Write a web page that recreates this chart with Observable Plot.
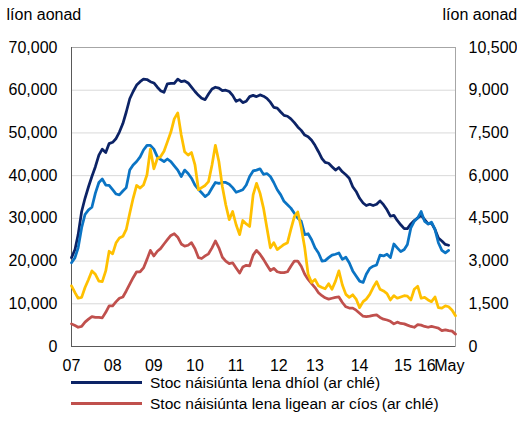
<!DOCTYPE html>
<html><head><meta charset="utf-8">
<script src="https://cdn.jsdelivr.net/npm/d3@7"></script>
<script src="https://cdn.jsdelivr.net/npm/@observablehq/plot@0.6"></script>
<style>
body{margin:0;background:#fff;font-family:"Liberation Sans",Arial,sans-serif;}
#legend{height:42px;margin-top:-8px;position:relative;}
.row{display:flex;align-items:center;height:21px;margin-left:71px;font-size:15.5px;color:#000;white-space:nowrap;}
.sw{width:71px;height:3px;margin-right:8px;flex:none;}
</style></head><body><div id="chart"></div><div id="legend"></div>
<script>
// monthly data, first month January 2007
const startYear = 2007;
const endMonth = "2016-05-01";

// left axis (líon aonad)
const stocDiol = [20.8,22.7,26.2,31.6,34.7,37.4,39.8,42.1,44.8,46.2,45.4,47.5,47.8,48.7,50.2,52.2,54.9,58.0,59.7,61.2,62.0,62.6,62.5,62.0,61.7,60.7,59.9,59.5,61.5,61.6,61.6,62.6,62.0,62.2,61.7,60.7,59.7,58.8,
58.1,57.8,59.1,60.3,60.7,60.5,59.9,60.0,59.7,58.8,57.4,57.8,57.1,57.4,58.5,58.8,58.5,58.9,58.6,58.1,57.2,56.0,55.8,54.9,54.1,53.9,53.3,52.4,51.4,50.6,49.5,49.1,48.3,47.1,45.6,44.0,43.1,
42.9,42.1,41.3,41.9,40.9,40.2,39.4,37.4,36.3,34.7,33.6,33.0,33.3,33.0,33.3,34.1,33.2,32.0,30.5,30.7,29.5,28.5,27.6,27.6,28.7,29.5,30.1,30.7,29.7,28.7,28.9,27.4,25.4,24.7,23.9,23.7].map(v => v * 1000);
const stocCios = [5.3,4.9,4.5,4.7,5.7,6.4,7.0,6.8,6.8,6.7,8.0,9.5,9.5,10.5,11.3,11.6,13.0,14.6,16.1,17.5,17.5,18.4,20.4,22.5,21.2,22.3,22.9,24.0,25.0,26.0,26.4,25.6,24.0,23.5,23.7,24.3,22.9,
20.8,20.6,21.2,21.7,23.1,24.7,23.1,20.9,20.0,19.4,19.6,18.4,17.2,18.6,19.0,18.9,21.4,22.5,21.6,20.4,19.1,17.8,18.3,17.5,17.3,17.3,17.5,18.8,20.0,20.0,18.8,16.9,15.7,14.7,13.8,12.6,11.9,
11.4,11.1,11.3,11.5,11.6,10.3,9.3,9.0,9.0,8.5,7.8,7.1,7.0,7.1,7.3,7.4,6.8,6.4,6.2,5.9,5.3,5.7,5.4,5.3,5.0,4.7,4.5,5.1,5.0,4.7,4.5,4.7,4.5,4.3,3.7,3.9,3.7,3.6,2.9].map(v => v * 1000);

// right axis (líon aonad)
const stocDiolDeis = [2940,3120,3465,4170,4635,4800,4890,5385,5760,5880,5670,5655,5505,5355,5325,5460,5580,6195,6375,6495,6660,6900,7065,7065,6930,6660,6570,6495,6585,6495,6345,6195,5970,6195,6075,5910,5670,
5520,5400,5265,5355,5565,5760,5730,5760,5760,5700,5580,5415,5460,5505,5670,5970,6165,6195,6240,6045,6075,5970,5760,5505,5325,5100,4980,4860,4680,4515,4395,3930,3960,3750,3465,3285,3000,
3015,3120,3210,3240,3285,3060,3135,2940,2655,2475,2295,2250,2535,2745,2820,2865,3210,3180,3240,3120,3600,3465,3330,3405,3585,4170,4395,4515,4740,4395,4305,4365,4110,3645,3375,3285,3375];
const stocCiosDeis = [2130,1890,1695,1725,2070,2355,2655,2535,2295,2280,2655,3345,3255,3645,3810,3870,4110,4680,5205,5655,5565,5670,6030,6930,6240,6600,6660,6855,7185,7530,7995,8205,7425,6840,6720,6810,6375,
5505,5580,5655,5790,6375,7065,6495,5610,4980,4455,4740,4275,3930,4425,4305,4215,5325,5730,5385,4860,4170,3465,3645,3405,3495,3585,3645,4110,4560,4725,4170,3465,2535,2250,2355,2130,2070,
2025,2205,2010,2295,2655,2160,1830,1725,1815,1665,1365,1575,1665,1830,2070,2280,2010,1950,1860,1635,1785,1695,1740,1785,1770,1635,2010,2115,1695,1725,1635,1575,1740,1365,1350,1425,1395,1275,1080];

const leftTicks = [0,10000,20000,30000,40000,50000,60000,70000];
const leftMax = 70000, rightMax = 10500;
const xTickDates = ["2007-01-01","2008-01-01","2009-01-01","2010-01-01","2011-01-01","2012-01-15","2012-12-01","2014-01-01","2015-01-20","2015-08-19","2016-03-07"];
const xTickLabels = ["07","08","09","10","11","12","13","14","15","16","May"];

const names = {
  diol: "Stoc náisiúnta lena dhíol (ar chlé)",
  cios: "Stoc náisiúnta lena ligean ar cíos (ar chlé)"
};
const colors = {diol: "#0c2366", cios: "#c0504d", diolDeis: "#0b74c4", ciosDeis: "#ffc000"};

const month = i => new Date(Date.UTC(startYear, i, 1));
const k = rightMax / leftMax;
const rows = (vals, scale) => vals.map((v, i) => ({date: month(i), value: v * scale}));
const fmt = d3.format(",");
const labelByTime = new Map(xTickDates.map((d, i) => [+new Date(d), xTickLabels[i]]));

const lineOpts = (c) => ({x: "date", y: "value", stroke: c, strokeWidth: 2.75, strokeLinejoin: "round", strokeLinecap: "round"});

const chart = Plot.plot({
  width: 517, height: 380,
  marginTop: 47, marginBottom: 34, marginLeft: 71, marginRight: 62,
  style: {fontFamily: "'Liberation Sans', Arial, sans-serif", fontSize: "16px", color: "#000", background: "#fff", overflow: "visible"},
  x: {type: "utc", domain: [month(0), new Date(endMonth)]},
  y: {domain: [0, leftMax]},
  marks: [
    Plot.gridY(leftTicks, {stroke: "#d9d9d9", strokeOpacity: 1}),
    Plot.frame({stroke: "#a6a6a6"}),
    Plot.ruleY([0], {stroke: "#595959"}),
    Plot.ruleX([month(0)], {stroke: "#595959"}),
    Plot.line(rows(stocDiol, 1), lineOpts(colors.diol)),
    Plot.line(rows(stocCios, 1), lineOpts(colors.cios)),
    Plot.line(rows(stocDiolDeis, 1 / k), lineOpts(colors.diolDeis)),
    Plot.line(rows(stocCiosDeis, 1 / k), lineOpts(colors.ciosDeis)),
    Plot.axisY({ticks: leftTicks, tickFormat: fmt, tickSize: 0, tickPadding: 14, label: null}),
    Plot.axisY({anchor: "right", ticks: leftTicks, tickFormat: d => fmt(Math.round(d * k)), tickSize: 0, tickPadding: 13, label: null}),
    Plot.axisX({ticks: xTickDates.map(d => new Date(d)), tickFormat: d => labelByTime.get(+d), tickSize: 0, tickPadding: 13, label: null}),
    Plot.text(["líon aonad"], {frameAnchor: "top-left", dx: -65, dy: -33, textAnchor: "start", lineAnchor: "middle"}),
    Plot.text(["líon aonad"], {frameAnchor: "top-right", dx: -13, dy: -33, textAnchor: "start", lineAnchor: "middle"})
  ]
});
document.getElementById("chart").appendChild(chart);

const legend = document.getElementById("legend");
[["diol", names.diol], ["cios", names.cios]].forEach(([key, label]) => {
  const row = document.createElement("div");
  row.className = "row";
  const sw = document.createElement("span");
  sw.className = "sw";
  sw.style.background = colors[key];
  const t = document.createElement("span");
  t.textContent = label;
  row.appendChild(sw); row.appendChild(t);
  legend.appendChild(row);
});
</script></body></html>
